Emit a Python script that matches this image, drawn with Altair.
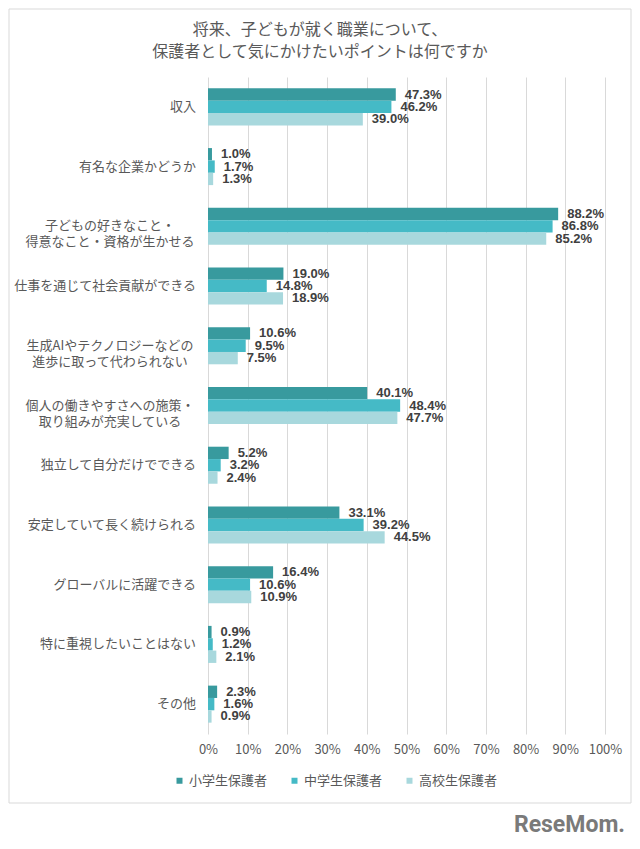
import altair as alt
import pandas as pd

categories = [
    "収入",
    "有名な企業かどうか",
    "子どもの好きなこと・\n得意なこと・資格が生かせる",
    "仕事を通じて社会貢献ができる",
    "生成AIやテクノロジーなどの\n進歩に取って代わられない",
    "個人の働きやすさへの施策・\n取り組みが充実している",
    "独立して自分だけでできる",
    "安定していて長く続けられる",
    "グローバルに活躍できる",
    "特に重視したいことはない",
    "その他",
]
groups = ["小学生保護者", "中学生保護者", "高校生保護者"]
elementary = [47.3, 1.0, 88.2, 19.0, 10.6, 40.1, 5.2, 33.1, 16.4, 0.9, 2.3]
junior_high = [46.2, 1.7, 86.8, 14.8, 9.5, 48.4, 3.2, 39.2, 10.6, 1.2, 1.6]
high_school = [39.0, 1.3, 85.2, 18.9, 7.5, 47.7, 2.4, 44.5, 10.9, 2.1, 0.9]
colors = ["#389a9e", "#45bac6", "#a8d8dd"]
x_ticks = [0, 10, 20, 30, 40, 50, 60, 70, 80, 90, 100]
title_lines = ["将来、子どもが就く職業について、", "保護者として気にかけたいポイントは何ですか"]
logo_text = "ReseMom."

rows = []
for i, c in enumerate(categories):
    for g, vals in zip(groups, [elementary, junior_high, high_school]):
        rows.append({"cat": c, "group": g, "value": vals[i], "label": f"{vals[i]:.1f}%"})
df = pd.DataFrame(rows)
cat_df = pd.DataFrame({"cat": categories})

JP = "Noto Sans CJK JP"
GRAY = "#595959"
W, H = 397, 657

y_enc = alt.Y(
    "cat:N",
    scale=alt.Scale(domain=categories, paddingInner=0.38, paddingOuter=0.19),
    axis=None,
)
yoff = alt.YOffset("group:N", scale=alt.Scale(domain=groups))
x_scale = alt.Scale(domain=[0, 100], nice=False)
x_axis = alt.Axis(
    values=x_ticks,
    tickCount=11,
    labelExpr="datum.value + '%'",
    labelOverlap=False,
    labelFlush=False,
    grid=True,
    gridColor="#d9d9d9",
    domain=False,
    ticks=False,
    labelPadding=9,
    labelFontSize=13,
    labelColor=GRAY,
    labelFont=JP,
    title=None,
)

bars = alt.Chart(df).mark_bar().encode(
    x=alt.X("value:Q", scale=x_scale, axis=x_axis),
    y=y_enc,
    yOffset=yoff,
    color=alt.Color(
        "group:N",
        scale=alt.Scale(domain=groups, range=colors),
        legend=alt.Legend(
            orient="none",
            legendX=-35,
            legendY=697,
            direction="horizontal",
            title=None,
            symbolType="square",
            symbolSize=36,
            symbolStrokeWidth=0,
            labelFontSize=13,
            labelFont=JP,
            labelColor=GRAY,
            columnPadding=20,
            labelOffset=3,
            padding=0,
        ),
    ),
)

value_labels = alt.Chart(df).mark_text(
    align="left", baseline="middle", dx=9, font="Liberation Sans",
    fontSize=13, fontWeight="bold", color="#404040",
).encode(
    x=alt.X("value:Q", scale=x_scale, axis=x_axis),
    y=y_enc,
    yOffset=yoff,
    text="label:N",
)

single_labels = alt.Chart(cat_df).transform_filter(
    "indexof(datum.cat, '\\n') < 0"
).mark_text(
    align="right", baseline="middle", fontSize=13, font=JP, color=GRAY,
).encode(x=alt.value(-12), y=y_enc, text="cat:N")

multi_labels = alt.Chart(cat_df).transform_filter(
    "indexof(datum.cat, '\\n') >= 0"
).mark_text(
    align="center", baseline="middle", fontSize=13, font=JP, color=GRAY,
    lineBreak="\n", lineHeight=16,
).encode(x=alt.value(-98), y=y_enc, text="cat:N")

title_text = alt.Chart(alt.Data(values=[{}])).mark_text(
    text=title_lines, font=JP, fontSize=16, color=GRAY,
    lineHeight=21.7, align="center", baseline="middle",
).encode(x=alt.value(112), y=alt.value(-47))

frame = alt.Chart(alt.Data(values=[{}])).mark_rect(
    fillOpacity=0, stroke="#d9d9d9", strokeWidth=1,
).encode(x=alt.value(-199), x2=alt.value(423), y=alt.value(-68), y2=alt.value(726))

logo = alt.Chart(alt.Data(values=[{}])).mark_text(
    text=logo_text, font="Roboto", fontSize=23, fontWeight="bold",
    color="#7a7a7a", align="right", baseline="middle",
).encode(x=alt.value(417), y=alt.value(748))

chart = alt.layer(
    frame, title_text, bars, value_labels, single_labels, multi_labels, logo
).properties(
    width=W,
    height=H,
    padding={"left": 200, "top": 69, "right": 27, "bottom": 105},
    autosize=alt.AutoSizeParams(type="none"),
).configure_view(stroke=None).configure_axisX(labelOverlap=False)

chart.save("out.html", embed_options={"renderer": "svg", "actions": False})
